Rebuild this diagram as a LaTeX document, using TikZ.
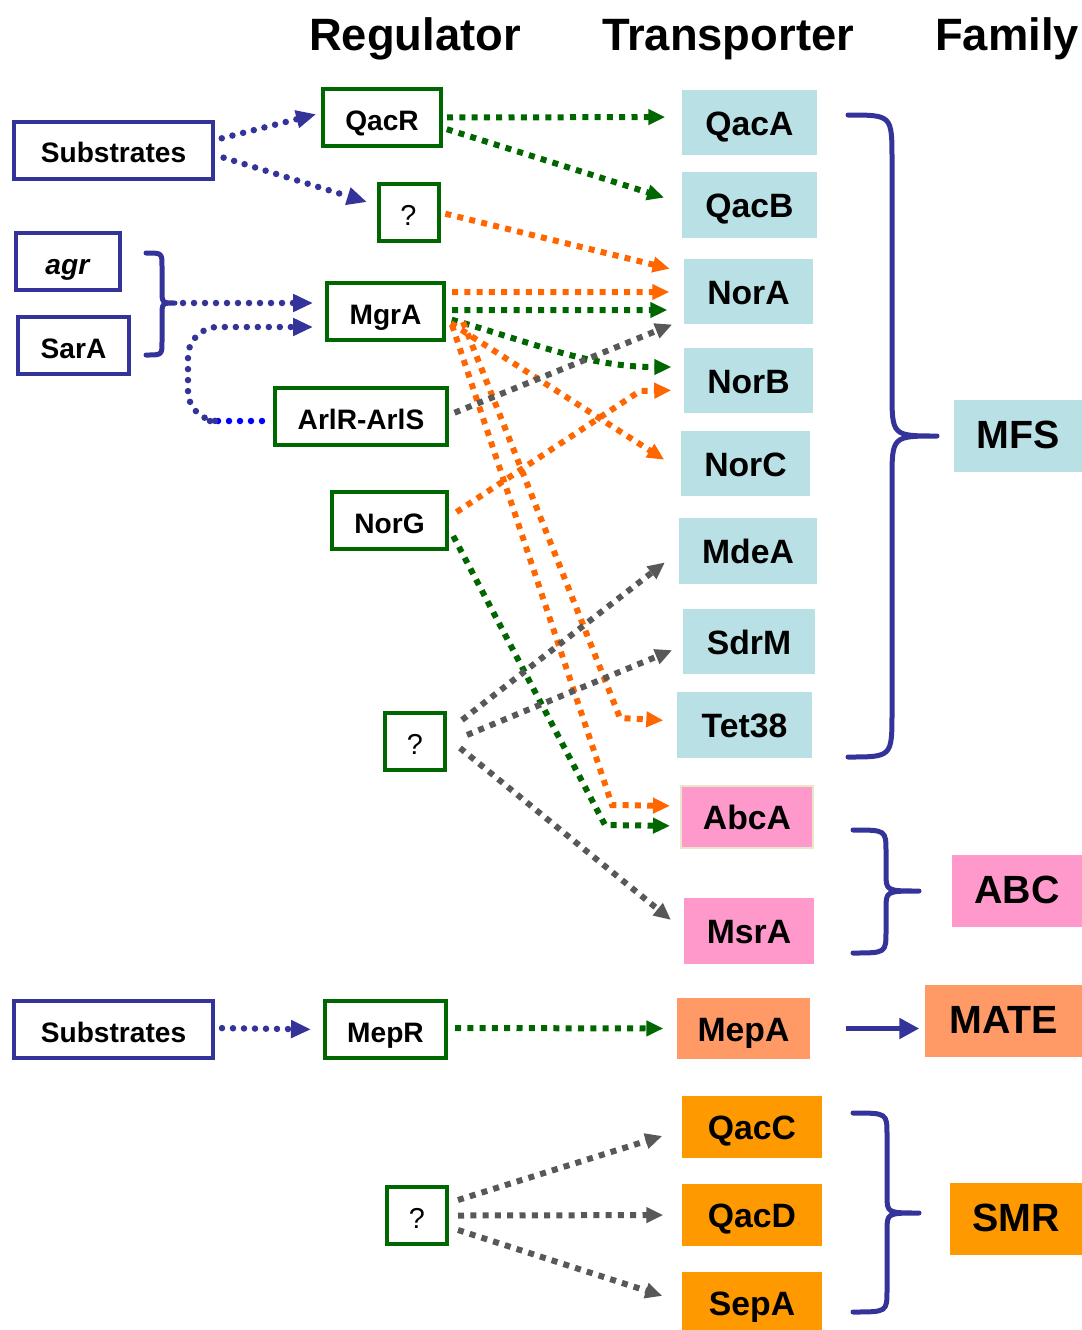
\documentclass[tikz,border=0pt]{standalone}
\usepackage{fontspec}
\setmainfont{Liberation Sans}
\usetikzlibrary{arrows.meta, calc}

\definecolor{sbblue}{RGB}{51,51,153}
\definecolor{rgreen}{RGB}{0,102,0}
\definecolor{aorange}{RGB}{255,102,0}
\definecolor{agray}{RGB}{88,88,88}
\definecolor{mfsblue}{RGB}{185,224,228}
\definecolor{abcpink}{RGB}{255,153,204}
\definecolor{matesalmon}{RGB}{255,153,102}
\definecolor{smrorange}{RGB}{255,153,0}
\definecolor{abcrim}{RGB}{232,232,200}

\begin{document}
\begin{tikzpicture}[
    inbox/.style={draw=sbblue, line width=0.04cm, inner sep=0pt, minimum height=0.57cm,
        text height=0.72em, text depth=0pt, font=\fontsize{8}{9.6}\selectfont\bfseries},
    regbox/.style={inbox, draw=rgreen},
    qbox/.style={regbox, minimum width=0.60cm, font=\fontsize{8.2}{9.6}\selectfont},
    tbox/.style={inner sep=0pt, text height=0.72em, text depth=0pt, font=\fontsize{9.6}{11}\selectfont\bfseries},
    fambox/.style={inner sep=0pt, minimum height=0.72cm, text height=0.72em, text depth=0pt,
        font=\fontsize{11.2}{13}\selectfont\bfseries},
    head/.style={anchor=base, font=\fontsize{12.9}{15}\selectfont\bfseries},
    bdots/.style={sbblue, line width=0.065cm, line cap=round, dash pattern=on 0pt off 0.11cm,
        -{Triangle[length=0.2cm,width=0.17cm]}},
    sqdots/.style={line width=0.06cm, dash pattern=on 0.06cm off 0.063cm,
        -{Triangle[length=0.17cm,width=0.15cm]}},
    gdots/.style={sqdots, rgreen},
    odots/.style={sqdots, aorange},
    ydots/.style={sqdots, agray},
    brace/.style={sbblue, line width=0.05cm, line join=round, line cap=round}
]

    \useasboundingbox (0,0) rectangle (10.82,-13.30);

    % Column heads
    \node[head] (hreg) at (4.15,-0.50) {Regulator};
    \node[head] (htrans) at (7.28,-0.50) {Transporter};
    \node[head] (hfam) at (10.07,-0.50) {Family};

    % Inputs and regulators
    \node[inbox, minimum width=1.99cm] (suba) at (1.135,-1.50) {Substrates};
    \node[regbox, minimum width=1.18cm] (qacr) at (3.82,-1.175) {QacR};
    \node[qbox] (unka) at (4.085,-2.125) {?};
    \node[inbox, minimum width=1.04cm] (agr) at (0.68,-2.615) {\textit{agr}};
    \node[inbox, minimum width=1.11cm] (sara) at (0.735,-3.455) {SarA};
    \node[regbox, minimum width=1.17cm] (mgra) at (3.855,-3.115) {MgrA};
    \node[regbox, minimum width=1.72cm] (arlr) at (3.61,-4.165) {ArlR-ArlS};
    \node[regbox, minimum width=1.15cm] (norg) at (3.895,-5.205) {NorG};
    \node[qbox] (unkb) at (4.15,-7.415) {?};
    \node[inbox, minimum width=1.99cm] (subb) at (1.135,-10.295) {Substrates};
    \node[regbox, minimum width=1.21cm] (mepr) at (3.855,-10.295) {MepR};
    \node[qbox] (unkc) at (4.17,-12.155) {?};

    % Transporters
    \node[tbox, fill=mfsblue, minimum width=1.35cm, minimum height=0.65cm] (qaca) at (7.495,-1.225) {QacA};
    \node[tbox, fill=mfsblue, minimum width=1.35cm, minimum height=0.66cm] (qacb) at (7.495,-2.05) {QacB};
    \node[tbox, fill=mfsblue, minimum width=1.29cm, minimum height=0.65cm] (nora) at (7.485,-2.915) {NorA};
    \node[tbox, fill=mfsblue, minimum width=1.29cm, minimum height=0.65cm] (norb) at (7.485,-3.805) {NorB};
    \node[tbox, fill=mfsblue, minimum width=1.29cm, minimum height=0.65cm] (norc) at (7.455,-4.635) {NorC};
    \node[tbox, fill=mfsblue, minimum width=1.38cm, minimum height=0.66cm] (mdea) at (7.48,-5.51) {MdeA};
    \node[tbox, fill=mfsblue, minimum width=1.32cm, minimum height=0.65cm] (sdrm) at (7.49,-6.415) {SdrM};
    \node[tbox, fill=mfsblue, minimum width=1.35cm, minimum height=0.66cm] (tet38) at (7.445,-7.25) {Tet38};
    \node[tbox, fill=abcpink, draw=abcrim, line width=0.02cm, minimum width=1.32cm, minimum height=0.62cm] (abca) at (7.47,-8.17) {AbcA};
    \node[tbox, fill=abcpink, minimum width=1.30cm, minimum height=0.66cm] (msra) at (7.49,-9.31) {MsrA};
    \node[tbox, fill=matesalmon, minimum width=1.33cm, minimum height=0.61cm] (mepa) at (7.435,-10.285) {MepA};
    \node[tbox, fill=smrorange, minimum width=1.40cm, minimum height=0.62cm] (qacc) at (7.52,-11.27) {QacC};
    \node[tbox, fill=smrorange, minimum width=1.40cm, minimum height=0.62cm] (qacd) at (7.52,-12.15) {QacD};
    \node[tbox, fill=smrorange, minimum width=1.40cm, minimum height=0.62cm] (sepa) at (7.52,-13.03) {SepA};

    % Families
    \node[fambox, fill=mfsblue, minimum width=1.28cm] (mfs) at (10.18,-4.36) {MFS};
    \node[fambox, fill=abcpink, minimum width=1.30cm] (abc) at (10.17,-8.91) {ABC};
    \node[fambox, fill=matesalmon, minimum width=1.57cm] (mate) at (10.035,-10.21) {MATE};
    \node[fambox, fill=smrorange, minimum width=1.32cm] (smr) at (10.16,-12.19) {SMR};

    % Braces
    \coordinate (bracetip) at (1.75,-3.03);
    \draw[brace] (1.46,-2.53) .. controls (1.62,-2.53) .. (1.62,-2.66) -- (1.62,-2.90)
        .. controls (1.62,-3.03) .. (bracetip) .. controls (1.62,-3.03) .. (1.62,-3.16)
        -- (1.62,-3.42) .. controls (1.62,-3.55) .. (1.46,-3.55);
    \draw[brace] (8.48,-1.15) .. controls (8.92,-1.15) .. (8.92,-1.60) -- (8.92,-3.91)
        .. controls (8.92,-4.36) .. (9.37,-4.36) .. controls (8.92,-4.36) .. (8.92,-4.81)
        -- (8.92,-7.12) .. controls (8.92,-7.57) .. (8.48,-7.57);
    \draw[brace] (8.53,-8.30) .. controls (8.86,-8.30) .. (8.86,-8.52) -- (8.86,-8.73)
        .. controls (8.86,-8.91) .. (9.19,-8.91) .. controls (8.86,-8.91) .. (8.86,-9.09)
        -- (8.86,-9.31) .. controls (8.86,-9.53) .. (8.53,-9.53);
    \draw[brace] (8.53,-11.13) .. controls (8.87,-11.13) .. (8.87,-11.35) -- (8.87,-11.95)
        .. controls (8.87,-12.13) .. (9.19,-12.13) .. controls (8.87,-12.13) .. (8.87,-12.31)
        -- (8.87,-12.90) .. controls (8.87,-13.12) .. (8.53,-13.12);

    % Signals into the regulators
    \draw[bdots, shorten <=0.07cm, shorten >=0.05cm] ([yshift=0.10cm]suba.east) -- ([yshift=0.045cm]qacr.west);
    \draw[bdots, shorten <=0.09cm, shorten >=0.10cm] ([yshift=-0.05cm]suba.east) -- ([yshift=0.075cm]unka.west);
    \draw[bdots, shorten <=0.08cm, shorten >=0.12cm] (bracetip) -- ([yshift=0.085cm]mgra.west);
    \coordinate (loop) at (2.10,-4.21);
    \draw[bdots, blue, -, shorten <=0.11cm] ([yshift=-0.045cm]arlr.west) -- (loop);
    \draw[bdots, rounded corners=0.3cm, shorten >=0.12cm] (loop) -| (1.88,-3.27) -- ([yshift=-0.155cm]mgra.west);
    \draw[bdots, shorten <=0.07cm, shorten >=0.12cm] ([yshift=0.015cm]subb.east) -- (mepr.west);

    % Green links
    \draw[gdots, shorten <=0.04cm, shorten >=0.16cm] (qacr.east) -- ([yshift=0.055cm]qaca.west);
    \draw[gdots, shorten <=0.04cm, shorten >=0.18cm] ([yshift=-0.105cm]qacr.east) -- ([yshift=0.02cm]qacb.west);
    \draw[gdots, shorten <=0.06cm, shorten >=0.16cm] ([yshift=0.015cm]mgra.east) -- ([yshift=-0.185cm]nora.west);
    \draw[gdots, shorten <=0.06cm, shorten >=0.12cm] ([yshift=-0.065cm]mgra.east) to[out=-16, in=180] ([yshift=0.135cm]norb.west);
    \coordinate (gbend) at (6.05,-8.25);
    \draw[gdots, shorten <=0.09cm, shorten >=0.10cm] ([yshift=-0.075cm]norg.east) -- (gbend) -- ([yshift=-0.09cm]abca.west);
    \draw[gdots, shorten <=0.07cm, shorten >=0.13cm] ([yshift=0.015cm]mepr.east) -- (mepa.west);

    % Orange links
    \draw[odots, shorten <=0.05cm, shorten >=0.14cm] (unka.east) -- ([yshift=0.195cm]nora.west);
    \draw[odots, shorten <=0.06cm, shorten >=0.14cm] ([yshift=0.195cm]mgra.east) -- ([yshift=-0.005cm]nora.west);
    \draw[odots, shorten <=0.06cm, shorten >=0.19cm] ([yshift=-0.085cm]mgra.east) -- ([yshift=-0.065cm]norc.west);
    \coordinate (obend1) at (6.20,-7.18);
    \draw[odots, shorten >=0.13cm] ([xshift=0.17cm, yshift=-0.105cm]mgra.east) -- (obend1) -- ([yshift=0.04cm]tet38.west);
    \coordinate (obend2) at (6.12,-8.05);
    \draw[odots, shorten >=0.10cm] ([xshift=0.06cm, yshift=-0.135cm]mgra.east) -- (obend2) -- ([yshift=0.11cm]abca.west);
    \coordinate (obend3) at (6.40,-3.91);
    \draw[odots, shorten <=0.09cm, shorten >=0.12cm] ([yshift=0.035cm]norg.east) -- (obend3) -- ([yshift=-0.095cm]norb.west);

    % Gray links
    \draw[ydots, shorten <=0.06cm, shorten >=0.12cm] ([yshift=0.015cm]arlr.east) -- ([yshift=-0.285cm]nora.west);
    \draw[ydots, shorten >=0.17cm] ([xshift=0.15cm, yshift=0.215cm]unkb.east) -- ([yshift=-0.01cm]mdea.west);
    \draw[ydots, shorten >=0.11cm] ([xshift=0.20cm, yshift=0.065cm]unkb.east) -- ([yshift=-0.045cm]sdrm.west);
    \draw[ydots, shorten >=0.16cm] ([xshift=0.13cm, yshift=-0.065cm]unkb.east) -- ([yshift=0.01cm]msra.west);
    \draw[ydots, shorten >=0.20cm] ([xshift=0.09cm, yshift=0.155cm]unkc.east) -- ([yshift=-0.03cm]qacc.west);
    \draw[ydots, shorten >=0.18cm] ([xshift=0.09cm]unkc.east) -- (qacd.west);
    \draw[ydots, shorten >=0.20cm] ([xshift=0.09cm, yshift=-0.145cm]unkc.east) -- ([yshift=0.01cm]sepa.west);

    % MepA to its family
    \draw[sbblue, line width=0.05cm, -{Triangle[length=0.2cm,width=0.2cm]}, shorten <=0.35cm, shorten >=0.05cm] (mepa.east) -- (mate.west |- mepa.east);

\end{tikzpicture}
\end{document}
